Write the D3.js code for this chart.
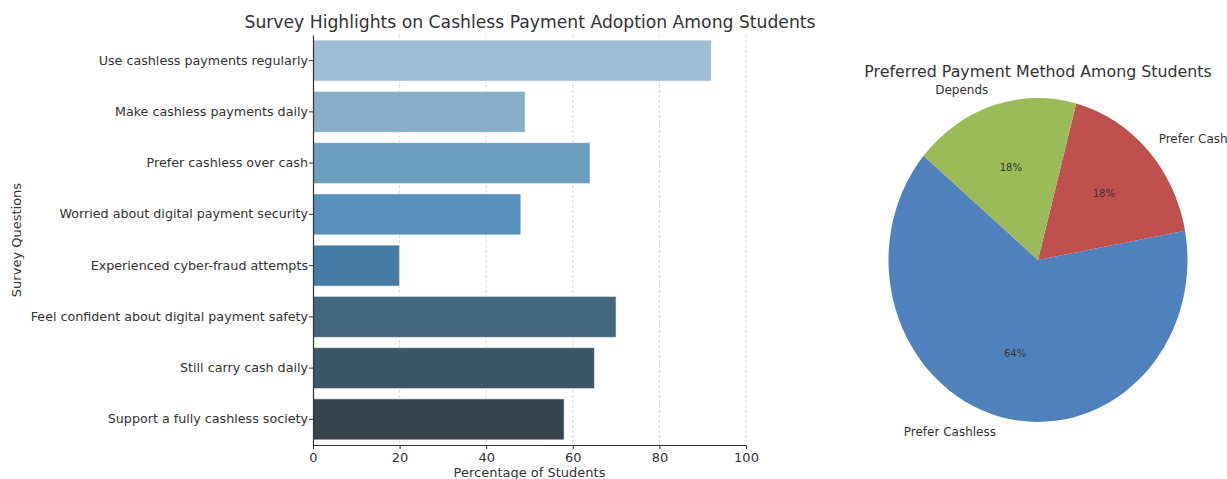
<!DOCTYPE html>
<html>
<head>
<meta charset="utf-8">
<script src="https://cdn.jsdelivr.net/npm/d3@7"></script>
<style>
    body { margin: 0; background: #fff; }
    text { font-family: "DejaVu Sans", sans-serif; fill: #333; }
</style>
</head>
<body>
<div id="chart"></div>
<script>
// survey bar chart data
const questions = [
    "Use cashless payments regularly",
    "Make cashless payments daily",
    "Prefer cashless over cash",
    "Worried about digital payment security",
    "Experienced cyber-fraud attempts",
    "Feel confident about digital payment safety",
    "Still carry cash daily",
    "Support a fully cashless society"
];
const percentages = [92, 49, 64, 48, 20, 70, 65, 58];
const barColors = ["#9dbed5", "#87adc9", "#6d9ebf", "#5690bb", "#467ca3", "#42677f", "#3c5669", "#37444e"];
const xTicks = [0, 20, 40, 60, 80, 100];

// pie data
const methods = ["Prefer Cashless", "Prefer Cash", "Depends"];
const shares = [64, 18, 18];
const pieColors = ["#4f81bd", "#c0504d", "#9bbb59"];
const START_ANGLE = 140; // degrees, counter-clockwise from 3 o'clock

const W = 1227, H = 479;
const svg = d3.select("#chart").append("svg")
    .attr("width", W)
    .attr("height", H);

// ---------- bar chart ----------
const margin = { left: 313, top: 35 };
const bw = 433, bh = 410;

const g = svg.append("g")
    .attr("transform", `translate(${margin.left}, ${margin.top})`);

const x = d3.scaleLinear().domain([0, 100]).range([0, bw]);
const y = d3.scaleBand().domain(questions).range([0, bh])
    .paddingInner(0.2).paddingOuter(0.1);

// grid
g.selectAll(".grid")
    .data(xTicks.filter(t => t > 0))
    .enter()
    .append("line")
    .attr("x1", d => x(d)).attr("x2", d => x(d))
    .attr("y1", 0).attr("y2", bh)
    .attr("stroke", "#cfcfcf")
    .attr("stroke-width", 0.8)
    .attr("stroke-dasharray", "3,2");

// bars
g.selectAll(".bar")
    .data(questions.map((q, i) => ({ name: q, value: percentages[i], color: barColors[i] })))
    .enter()
    .append("rect")
    .attr("x", 0)
    .attr("y", d => y(d.name))
    .attr("width", d => x(d.value))
    .attr("height", y.bandwidth())
    .attr("fill", d => d.color)
    .attr("stroke", "#fff")
    .attr("stroke-opacity", 0.6)
    .attr("stroke-width", 1);

// axes
const xAxis = g.append("g")
    .attr("transform", `translate(0, ${bh})`)
    .call(d3.axisBottom(x).tickValues(xTicks).tickSize(4).tickSizeOuter(0));
xAxis.selectAll("text").attr("font-size", 13).attr("dy", "0.8em");

const yAxis = g.append("g")
    .call(d3.axisLeft(y).tickSize(4).tickSizeOuter(0));
yAxis.selectAll("text").attr("font-size", 12.7).attr("x", -5);

[xAxis, yAxis].forEach(a => {
    a.select("path.domain").attr("stroke", "#333").attr("stroke-width", 1.2);
    a.selectAll(".tick line").attr("stroke", "#333");
    a.selectAll("text").style("fill", "#333").attr("font-family", "DejaVu Sans");
});

svg.append("text")
    .attr("x", margin.left + bw / 2)
    .attr("y", 477)
    .attr("text-anchor", "middle")
    .attr("font-size", 13)
    .text("Percentage of Students");

svg.append("text")
    .attr("transform", `translate(21, ${margin.top + bh / 2}) rotate(-90)`)
    .attr("text-anchor", "middle")
    .attr("font-size", 13)
    .text("Survey Questions");

svg.append("text")
    .attr("x", 530)
    .attr("y", 28)
    .attr("text-anchor", "middle")
    .attr("font-size", 17.2)
    .text("Survey Highlights on Cashless Payment Adoption Among Students");

// ---------- pie chart ----------
const cx = 1038, cy = 260, rx = 149.5, ry = 162;
const pg = svg.append("g")
    .attr("transform", `translate(${cx}, ${cy}) scale(${rx / 100}, ${ry / 100})`);

// d3 angles are clockwise from 12 o'clock; matplotlib goes counter-clockwise from 3 o'clock
const toD3 = deg => (90 - deg) * Math.PI / 180;
const total = d3.sum(shares);
let acc = START_ANGLE;
const slices = shares.map((v, i) => {
    const a0 = acc, a1 = acc + v / total * 360;
    acc = a1;
    return { name: methods[i], value: v, color: pieColors[i], a0, a1, mid: (a0 + a1) / 2 };
});

const arc = d3.arc().innerRadius(0).outerRadius(100);
pg.selectAll(".slice")
    .data(slices)
    .enter()
    .append("path")
    .attr("d", d => arc({ startAngle: toD3(d.a1), endAngle: toD3(d.a0) }))
    .attr("fill", d => d.color);

const pos = (deg, r) => [cx + Math.cos(deg * Math.PI / 180) * rx * r, cy - Math.sin(deg * Math.PI / 180) * ry * r];

svg.selectAll(".plabel")
    .data(slices)
    .enter()
    .append("text")
    .attr("x", d => pos(d.mid, 1.1)[0])
    .attr("y", d => pos(d.mid, 1.1)[1])
    .attr("text-anchor", d => Math.cos(d.mid * Math.PI / 180) < 0 ? "end" : "start")
    .attr("dominant-baseline", "central")
    .attr("font-size", 12)
    .text(d => d.name);

svg.selectAll(".pct")
    .data(slices)
    .enter()
    .append("text")
    .attr("x", d => pos(d.mid, 0.6)[0])
    .attr("y", d => pos(d.mid, 0.6)[1])
    .attr("text-anchor", "middle")
    .attr("dominant-baseline", "central")
    .attr("font-size", 10)
    .text(d => Math.round(d.value / total * 100) + "%");

svg.append("text")
    .attr("x", cx)
    .attr("y", 77)
    .attr("text-anchor", "middle")
    .attr("font-size", 15.8)
    .text("Preferred Payment Method Among Students");
</script>
</body>
</html>
